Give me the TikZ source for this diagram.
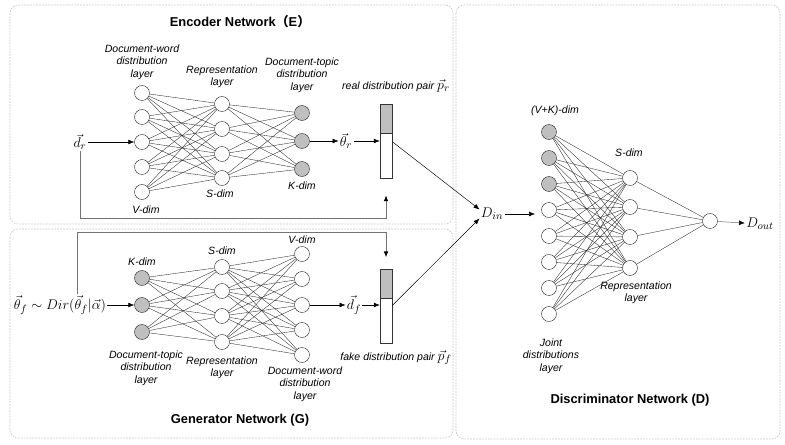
\documentclass[tikz,border=0pt]{standalone}
\usepackage{fontspec}
\setsansfont{Liberation Sans}
\newfontfamily\cjkfont{Noto Sans CJK SC}
\usetikzlibrary{arrows.meta,positioning}

\tikzset{
  panel/.style={draw=gray!45, line width=0.5pt, dash pattern=on 1.5pt off 1pt, rounded corners=7pt},
  neuron/.style={circle, draw=black!80, minimum size=0.45cm, inner sep=0pt, fill=white},
  topic/.style={neuron, fill=gray!50},
  wire/.style={draw=black!85, line width=0.3pt},
  lbl/.style={font=\sffamily\itshape\fontsize{9}{10.6}\selectfont, align=center, inner sep=0pt},
  ttl/.style={font=\sffamily\bfseries\fontsize{11}{13}\selectfont, inner sep=0pt},
  mth/.style={font=\fontsize{13}{15}\selectfont, inner sep=1pt},
  flow/.style={-{Latex[length=5pt,width=4pt,color=black]}, line width=0.4pt},
  feedback/.style={flow, draw=black!55, line width=0.7pt},
  bartop/.style={draw=black!80, fill=gray!50, minimum width=0.36cm, minimum height=0.87cm, inner sep=0pt},
  barbot/.style={draw=black!80, fill=white, minimum width=0.36cm, minimum height=1.35cm, inner sep=0pt},
}

\begin{document}
\begin{tikzpicture}[x=0.03cm, y=-0.03cm]
  \useasboundingbox (0,0) rectangle (785,444);

  % panels
  \draw[panel] (10,5) rectangle (453,224);
  \draw[panel] (10,229) rectangle (453,438);
  \draw[panel] (456,5) rectangle (780,439);

  %encoder
  \node[ttl] (enc) at (240,22) {Encoder Network{\cjkfont （}E{\cjkfont ）}};
  \foreach \i/\y in {1/93,2/117,3/142,4/167,5/192}
    \node[neuron] (ew\i) at (142,\y) {};
  \foreach \i/\y in {1/104,2/129,3/154,4/178}
    \node[neuron] (es\i) at (222,\y) {};
  \foreach \i/\y in {1/113,2/141,3/169}
    \node[topic] (et\i) at (302,\y) {};
  \foreach \a in {1,...,5}
    \foreach \b in {1,...,4}
      \draw[wire] (ew\a) -- (es\b);
  \foreach \a in {1,...,4}
    \foreach \b in {1,...,3}
      \draw[wire] (es\a) -- (et\b);

  \node[lbl] (ewl) at (142,62) {Document-word\\distribution\\layer};
  \node[lbl] (ewd) at (146,210) {V-dim};
  \node[lbl] (esl) at (222,77) {Representation\\layer};
  \node[lbl] (esd) at (220,194) {S-dim};
  \node[lbl] (etl) at (302,75) {Document-topic\\distribution\\layer};
  \node[lbl] (etd) at (302,186) {K-dim};

  \node[mth] (dr) at (80,142) {$\vec{d}_r$};
  \node[mth] (thr) at (346,141) {$\vec{\theta}_r$};
  \node[bartop, anchor=north] (rtop) at (386,104) {};
  \node[barbot, anchor=north] (rbot) at (rtop.south) {};
  \coordinate (rin) at ([yshift=-7pt]rbot.north west);
  \coordinate (rout) at ([yshift=-7pt]rbot.north east);
  \node[lbl, anchor=base] (prl) at (396,89) {real distribution pair \normalfont\fontsize{13}{15}\selectfont$\vec{p}_r$};

  \draw[flow] (dr) -- (ew3);
  \draw[flow] (et2) -- (thr);
  \draw[flow] (thr.east) -- (thr.east -| rin);
  \coordinate (ebase) at (80,218);
  \draw[feedback, shorten >=14pt] (dr.south) -- (ebase) -| (rbot.south);

  %generator
  \node[ttl] (gen) at (240,420) {Generator Network (G)};
  \foreach \i/\y in {1/278,2/305,3/332}
    \node[topic] (gk\i) at (142,\y) {};
  \foreach \i/\y in {1/267,2/291,3/316,4/342}
    \node[neuron] (gs\i) at (222,\y) {};
  \foreach \i/\y in {1/254,2/279,3/305,4/330,5/355}
    \node[neuron] (gv\i) at (302,\y) {};
  \foreach \a in {1,...,3}
    \foreach \b in {1,...,4}
      \draw[wire] (gk\a) -- (gs\b);
  \foreach \a in {1,...,4}
    \foreach \b in {1,...,5}
      \draw[wire] (gs\a) -- (gv\b);

  \node[lbl] (gkd) at (142,262) {K-dim};
  \node[lbl] (gsd) at (222,251) {S-dim};
  \node[lbl] (gvd) at (302,240) {V-dim};
  \node[lbl] (gkl) at (146,368) {Document-topic\\distribution\\layer};
  \node[lbl] (gsl) at (222,368) {Representation\\layer};
  \node[lbl] (gvl) at (305,384) {Document-word\\distribution\\layer};

  \node[mth] (thf) at (60,305) {$\vec{\theta}_f \sim Dir(\vec{\theta}_f|\vec{\alpha})$};
  \node[mth] (df) at (354,305) {$\vec{d}_f$};
  \node[bartop, anchor=north] (gtop) at (386,269) {};
  \node[barbot, anchor=north] (gbot) at (gtop.south) {};
  \coordinate (gout) at ([yshift=-6pt]gbot.north east);
  \node[lbl, anchor=base] (pfl) at (396,360) {fake distribution pair \normalfont\fontsize{13}{15}\selectfont$\vec{p}_f$};

  \draw[flow] (thf) -- (gk2);
  \draw[flow] (gv3) -- (df);
  \draw[flow] (df.east) -- (df.east -| gbot.west);
  \coordinate (gbase) at (77,232);
  \draw[feedback, shorten >=10pt] (gbase |- thf.north) -- (gbase) -| (gtop.north);

  %discriminator
  \node[ttl] (dis) at (630,400) {Discriminator Network (D)};
  \foreach \i/\y in {1/132,2/158,3/184}
    \node[topic] (dj\i) at (549,\y) {};
  \foreach \i/\y in {4/210,5/236,6/262,7/288,8/314}
    \node[neuron] (dj\i) at (549,\y) {};
  \foreach \i/\y in {1/178,2/207,3/237,4/268}
    \node[neuron] (ds\i) at (630,\y) {};
  \node[neuron] (dy) at (710,221) {};
  \foreach \a in {1,...,8}
    \foreach \b in {1,...,4}
      \draw[wire] (dj\a) -- (ds\b);
  \foreach \a in {1,...,4}
    \draw[wire] (ds\a) -- (dy);

  \node[lbl] (djd) at (555,111) {(V+K)-dim};
  \node[lbl] (dsd) at (629,153) {S-dim};
  \node[lbl] (dsl) at (636,293) {Representation\\layer};
  \node[lbl] (djl) at (551,356) {Joint\\distributions\\layer};

  \node[mth] (din) at (492,214) {$D_{in}$};
  \node[mth] (dout) at (760,224) {$D_{out}$};
  \coordinate (jin) at (535,214);
  \draw[flow] (rout) -- (din.160);
  \draw[flow] (gout) -- (din.200);
  \draw[flow] (din) -- (jin);
  \draw[flow, draw=black!60] (dy) -- (dout);
\end{tikzpicture}
\end{document}
